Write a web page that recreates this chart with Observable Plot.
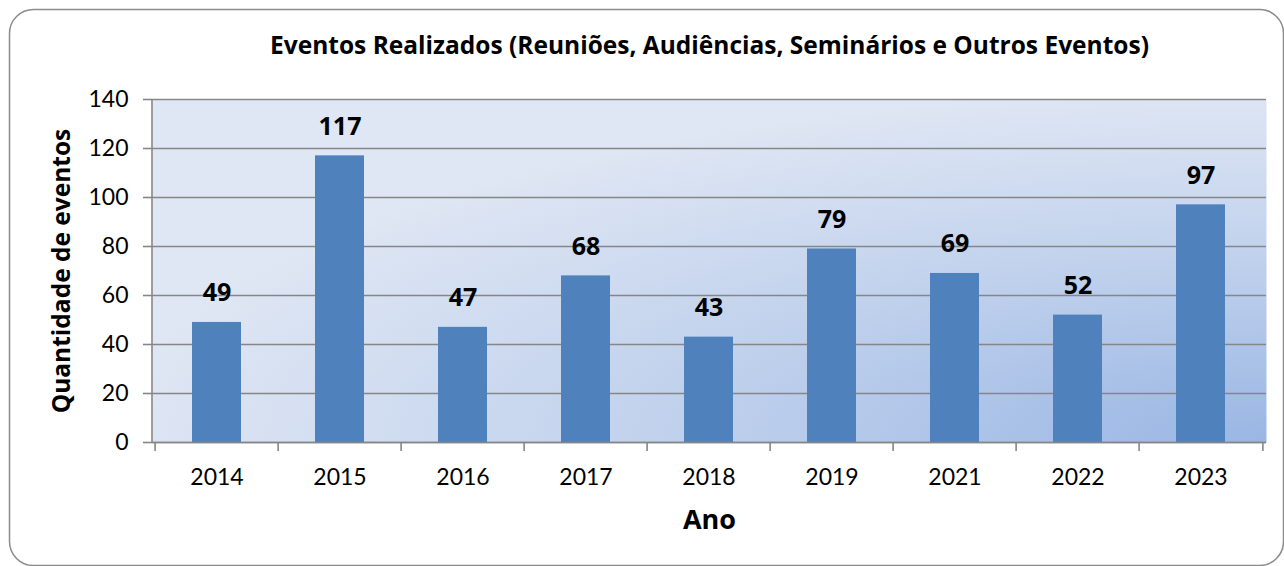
<!DOCTYPE html>
<html>
<head>
<meta charset="utf-8">
<script src="https://cdn.jsdelivr.net/npm/d3@7"></script>
<script src="https://cdn.jsdelivr.net/npm/@observablehq/plot@0.6"></script>
<style>
  html, body { margin: 0; padding: 0; background: #ffffff; }
  #chart { width: 1284px; height: 566px; }
</style>
</head>
<body>
<div id="chart"></div>
<script>
const anos = ["2014", "2015", "2016", "2017", "2018", "2019", "2021", "2022", "2023"];
const eventos = [49, 117, 47, 68, 43, 79, 69, 52, 97];
const yTicks = [0, 20, 40, 60, 80, 100, 120, 140];
const titulo = "Eventos Realizados (Reuniões, Audiências, Seminários e Outros Eventos)";
const tituloY = "Quantidade de eventos";
const tituloX = "Ano";

const data = anos.map((a, i) => ({ano: a, eventos: eventos[i]}));

const W = 1284, H = 566;
const mL = 152, mR = 18, mT = 99, mB = 124;
const step = (W - mL - mR) / anos.length;
const gridColor = "#868686";
const boldFont = "'Open Sans', Lato, sans-serif";

const chart = Plot.plot({
  width: W,
  height: H,
  marginLeft: mL,
  marginRight: mR,
  marginTop: mT,
  marginBottom: mB,
  style: {fontFamily: "Lato, 'Open Sans', sans-serif", fontSize: "23px", color: "#000", background: "transparent", overflow: "visible"},
  x: {domain: anos, paddingInner: 0.6, paddingOuter: 0.3},
  y: {domain: [0, 140]},
  marks: [
    Plot.frame({fill: "url(#bgGrad)", stroke: null}),
    Plot.gridY(yTicks, {stroke: gridColor, strokeOpacity: 1, strokeWidth: 1.6}),
    Plot.axisY({ticks: yTicks, tickSize: 9, tickPadding: 15, stroke: gridColor, strokeWidth: 1.6, label: null, fontSize: 23}),
    Plot.axisX({tickSize: 9, dx: -step / 2, tickFormat: () => "", stroke: gridColor, strokeWidth: 1.6, label: null}),
    Plot.axisX({ticks: [anos[anos.length - 1]], tickSize: 9, dx: step / 2, tickFormat: () => "", stroke: gridColor, strokeWidth: 1.6, label: null}),
    Plot.axisX({tickSize: 0, tickPadding: 26, label: null, fontSize: 23}),
    Plot.barY(data, {x: "ano", y: "eventos", fill: "#4F81BD"}),
    Plot.ruleY([0], {stroke: gridColor, strokeWidth: 1.6}),
    Plot.text(data, {x: "ano", y: "eventos", text: d => String(d.eventos), dy: -21, lineAnchor: "bottom", fontWeight: "bold", fontSize: 25, fontFamily: boldFont, fill: "#000"}),
    Plot.text([titulo], {frameAnchor: "top", lineAnchor: "middle", dy: -53, fontWeight: "bold", fontSize: 24.5, fontFamily: boldFont, fill: "#000"}),
    Plot.text([tituloY], {frameAnchor: "left", textAnchor: "middle", lineAnchor: "middle", rotate: -90, dx: -90, fontWeight: "bold", fontSize: 24.5, fontFamily: boldFont, fill: "#000"}),
    Plot.text([tituloX], {frameAnchor: "bottom", lineAnchor: "middle", dy: 78, fontWeight: "bold", fontSize: 27, fontFamily: boldFont, fill: "#000"})
  ]
});

const svg = d3.select(chart);
const defs = svg.insert("defs", ":first-child");
const grad = defs.append("radialGradient")
  .attr("id", "bgGrad")
  .attr("cx", 1).attr("cy", 1).attr("r", 1.05)
  .attr("gradientUnits", "objectBoundingBox");
grad.append("stop").attr("offset", 0).attr("stop-color", "#9ab6e4");
grad.append("stop").attr("offset", 0.55).attr("stop-color", "#c3d3ed");
grad.append("stop").attr("offset", 1).attr("stop-color", "#e0e7f4");

// outer rounded border (decoration)
svg.insert("rect", "defs + *")
  .attr("x", 9.5).attr("y", 9.5)
  .attr("width", 1274).attr("height", 556)
  .attr("rx", 24).attr("ry", 24)
  .attr("fill", "#ffffff")
  .attr("stroke", "#8c8c8c")
  .attr("stroke-width", 1.5);

// vertical y axis line
svg.append("line")
  .attr("x1", mL).attr("x2", mL)
  .attr("y1", mT).attr("y2", H - mB)
  .attr("stroke", gridColor).attr("stroke-width", 1.6);

document.getElementById("chart").appendChild(chart);
</script>
</body>
</html>
